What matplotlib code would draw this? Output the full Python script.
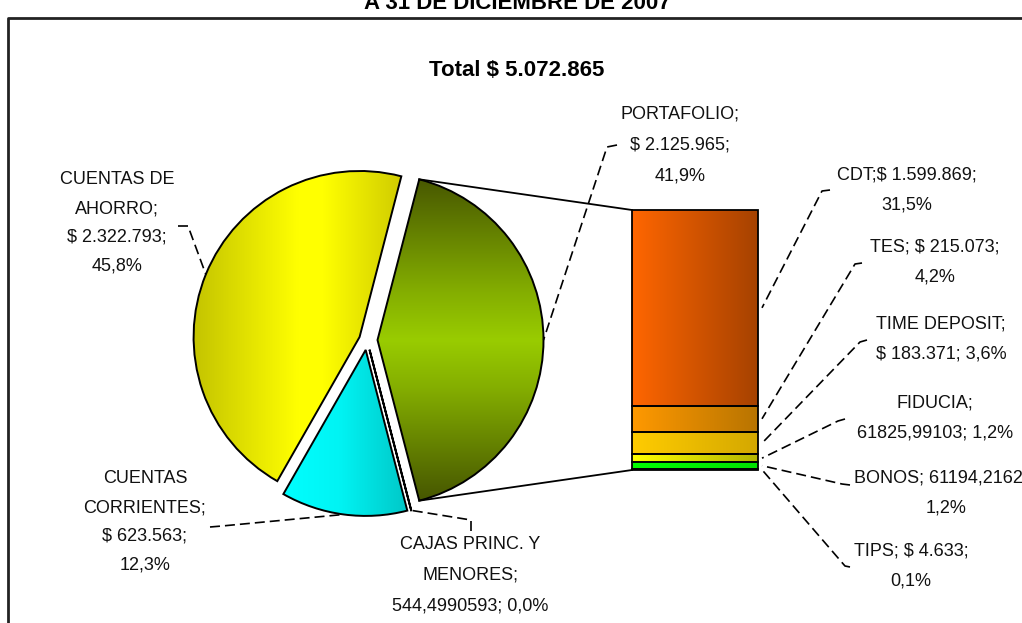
import numpy as np
import matplotlib
matplotlib.use("Agg")
import matplotlib.pyplot as plt
from matplotlib import font_manager

W, H = 1022, 623

# datos del grafico
title = "A 31 DE DICIEMBRE DE 2007"
total_label = "Total $ 5.072.865"
pie_names = ["CUENTAS DE\nAHORRO;\n$ 2.322.793;\n45,8%",
             "CUENTAS\nCORRIENTES;\n$ 623.563;\n12,3%",
             "CAJAS PRINC. Y\nMENORES;\n544,4990593; 0,0%",
             "PORTAFOLIO;\n$ 2.125.965;\n41,9%"]
pie_values = [2322793, 623563, 544.4990593, 2125965]
bar_names = ["CDT;$ 1.599.869;\n31,5%",
             "TES; $ 215.073;\n4,2%",
             "TIME DEPOSIT;\n$ 183.371; 3,6%",
             "FIDUCIA;\n61825,99103; 1,2%",
             "BONOS; 61194,21623;\n1,2%",
             "TIPS; $ 4.633;\n0,1%"]
bar_values = [1599869, 215073, 183371, 61825.99103, 61194.21623, 4633]

# colores (degradados)
pie_fills = [("h", [(0, "#c4c400"), (0.5, "#ffff00"), (0.62, "#ffff00"), (1, "#d0cc00")]),
             ("h", [(0, "#00ffff"), (0.45, "#00f4f4"), (1, "#00c8c8")]),
             (None, []),
             ("v", [(0, "#485800"), (0.35, "#84ae00"), (0.5, "#99cc00"), (0.65, "#84ae00"), (1, "#465600")])]
bar_fills = [[(0, "#ff6600"), (1, "#a64200")],
             [(0, "#ff9900"), (1, "#b87400")],
             [(0, "#ffcc00"), (1, "#d4a800")],
             [(0, "#ffff00"), (1, "#b4b400")],
             [(0, "#00ff00"), (1, "#00e000")],
             [(0, "#33cccc"), (1, "#229999")]]

names = {f.name for f in font_manager.fontManager.ttflist}
bold_font = "Liberation Sans Narrow" if "Liberation Sans Narrow" in names else "Liberation Sans"
txt_font = "Liberation Sans"


def grad(n, stops):
    pos = [s[0] for s in stops]
    rgb = np.array([matplotlib.colors.to_rgb(s[1]) for s in stops])
    t = np.linspace(0, 1, n)
    return np.stack([np.interp(t, pos, rgb[:, k]) for k in range(3)], axis=-1)


fig = plt.figure(figsize=(W / 100, H / 100), dpi=100)
ax = fig.add_axes([0, 0, 1, 1])

# torta
pie_center = (367, 340)
pie_r = 166
start = pie_values[3] / sum(pie_values) * 360 / 2
wedges, _ = ax.pie(pie_values, center=pie_center, radius=pie_r, startangle=-start,
                   counterclock=False, explode=[8, 10, 10, 10.5], frame=True,
                   wedgeprops=dict(facecolor="none", edgecolor="black", linewidth=1.4, zorder=3))
for w, (mode, stops) in zip(wedges, pie_fills):
    if mode is None:
        continue
    bb = w.get_path().get_extents()
    g = grad(256, stops)
    img = g[None, :, :] if mode == "h" else g[:, None, :]
    im = ax.imshow(img, extent=[bb.x0, bb.x1, bb.y1, bb.y0], aspect="auto",
                   interpolation="bilinear", zorder=2)
    im.set_clip_path(w)

ax.set_xlim(0, W)
ax.set_ylim(H, 0)
ax.set_aspect("auto")
ax.axis("off")

# barra
bx = fig.add_axes([632 / W, 1 - 470 / H, 126 / W, 260 / H])
bottoms = np.concatenate([[0], np.cumsum(bar_values)[:-1]])
bars = bx.bar(0, bar_values, bottom=bottoms, width=1, facecolor="none",
              edgecolor="black", linewidth=1.3, zorder=3, clip_on=False)
for p, stops in zip(bars, bar_fills):
    x0, y0 = p.get_x(), p.get_y()
    bx.imshow(grad(256, stops)[None, :, :], extent=[x0, x0 + p.get_width(), y0 + p.get_height(), y0],
              aspect="auto", interpolation="bilinear", zorder=2)
bx.set_xlim(-0.5, 0.5)
bx.set_ylim(sum(bar_values), 0)
bx.axis("off")


def to_main(pt):
    return ax.transData.inverted().transform(bx.transData.transform(pt))


# lineas de union torta - barra
wp = wedges[3]
ends = [(wp.center[0] + wp.r * np.cos(np.radians(t)), wp.center[1] + wp.r * np.sin(np.radians(t)))
        for t in (wp.theta1, wp.theta2)]
ends.sort(key=lambda q: q[1])
for e, yb in zip(ends, [0, sum(bar_values)]):
    c = to_main((-0.5, yb))
    ax.plot([e[0], c[0]], [e[1], c[1]], color="black", lw=1.3, zorder=4)

dash = (0, (6, 3))

# etiquetas torta
pie_label_pos = [(117, 223), (145, 522), (470, 575), (680, 145)]
pie_label_sp = [1.9, 1.9, 2.05, 2.1]
pie_leaders = [[(178, 226), (188, 226)], [(210, 527), (222, 526)],
               [(471, 531), (471, 520)], [(617, 145), (607, 147)]]
for w, name, pos, sp, ld in zip(wedges, pie_names, pie_label_pos, pie_label_sp, pie_leaders):
    ax.text(pos[0], pos[1], name, ha="center", va="center", multialignment="center",
            fontsize=13, family=txt_font, color="#111111", linespacing=sp)
    tm = np.radians((w.theta1 + w.theta2) / 2)
    tgt = (w.center[0] + w.r * np.cos(tm), w.center[1] + w.r * np.sin(tm))
    xs = [ld[0][0], ld[1][0], tgt[0]]
    ys = [ld[0][1], ld[1][1], tgt[1]]
    ax.plot(xs, ys, color="black", lw=1.2, ls=dash, zorder=4)

# etiquetas barra
bar_label_pos = [(907, 190), (935, 262), (941, 339), (935, 418), (946, 493), (911, 566)]
bar_leaders = [[(830, 190), (822, 191)], [(862, 263), (855, 264)], [(867, 340), (860, 342)],
               [(845, 419), (838, 421)], [(850, 485), (842, 484)], [(850, 567), (845, 566)]]
for p, name, pos, ld in zip(bars, bar_names, bar_label_pos, bar_leaders):
    ax.text(pos[0], pos[1], name, ha="center", va="center", multialignment="center",
            fontsize=13, family=txt_font, color="#111111", linespacing=2.05)
    tgt = to_main((p.get_x() + p.get_width(), p.get_y() + p.get_height() / 2))
    xs = [ld[0][0], ld[1][0], tgt[0] + 4]
    ys = [ld[0][1], ld[1][1], tgt[1]]
    ax.plot(xs, ys, color="black", lw=1.2, ls=dash, zorder=4)

# titulos y marco
ax.text(517, 71, total_label, ha="center", va="center", fontsize=16, fontweight="bold",
        family=bold_font, color="black")
ax.text(517, 9, title, ha="center", va="baseline", fontsize=16, fontweight="bold",
        family=bold_font, color="black")
ax.plot([8, 8, W + 10], [H + 10, 18, 18], color="#222222", lw=2, zorder=5)

fig.savefig("out.png", dpi=100)
